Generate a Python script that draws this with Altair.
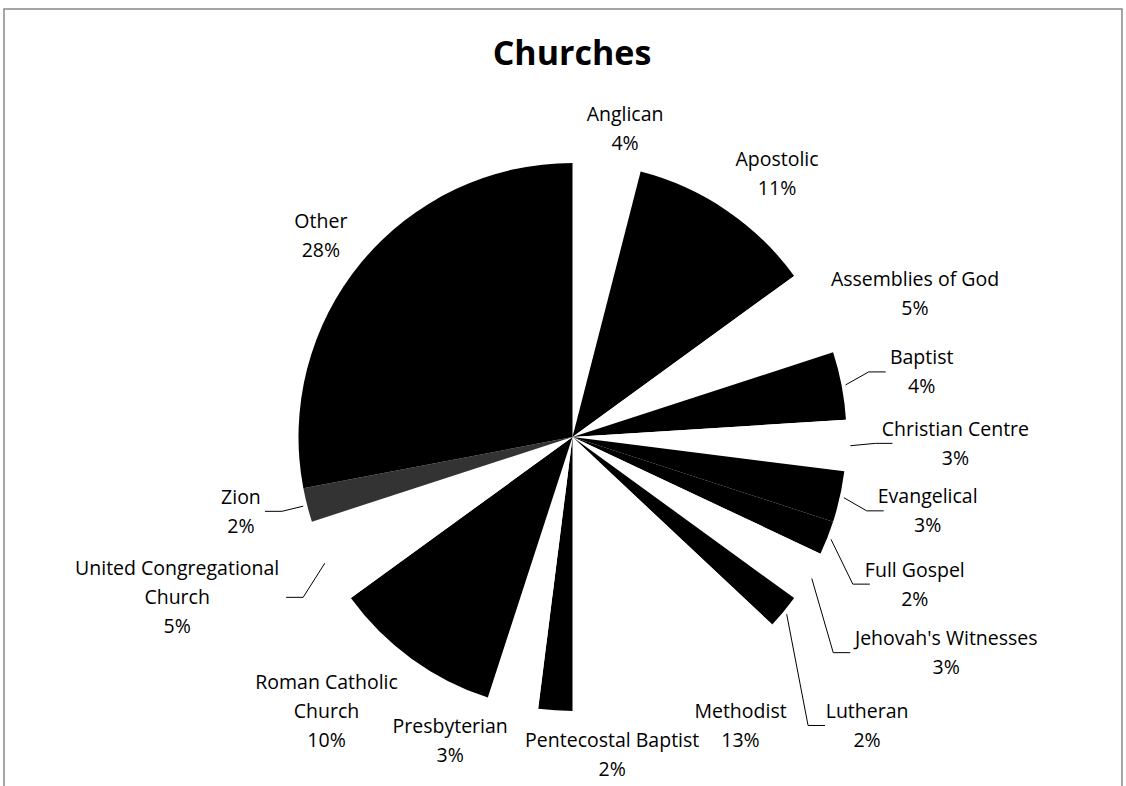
import altair as alt
import numpy as np
import pandas as pd

# ---------------- data ----------------
churches = ["Anglican", "Apostolic", "Assemblies of God", "Baptist", "Christian Centre",
            "Evangelical", "Full Gospel", "Jehovah's Witnesses", "Lutheran", "Methodist",
            "Pentecostal Baptist", "Presbyterian", "Roman Catholic Church",
            "United Congregational Church", "Zion", "Other"]
shares = [4, 11, 5, 4, 3, 3, 2, 3, 2, 13, 2, 3, 10, 5, 2, 28]

# ---------------- styles ----------------
slice_fill = ["#ffffff", "#000000", "#ffffff", "#000000", "#ffffff", "#000000", "#000000",
              "#ffffff", "#000000", "#ffffff", "#000000", "#ffffff", "#000000", "#ffffff",
              "#333333", "#000000"]
wrapped = {"Roman Catholic Church": "Roman Catholic\nChurch",
           "United Congregational Church": "United Congregational\nChurch"}
FONT = "Open Sans"
LINE_H = 29

# ---------------- layout ----------------
CX, CY, R = 572.5, 437, 274
label_dist = [312, 333, 371, 355, 383, 363, 373, 432, 413, 335, 321, 328, 369, 427, 340, 322]
label_shift = [2.5, 3.7, 4.4, 0.4, -0.7, -0.7, 1.8, -0.5, 4.9, -6.7, -10.7, 9.3, 5.8, 4.8, 1.6, -1.0]
# horizontal offset from label centre to the end of its leader line
leader_gap = {"Baptist": -36, "Christian Centre": -63, "Evangelical": -44, "Full Gospel": -45,
              "Jehovah's Witnesses": -96, "Lutheran": -42, "Zion": 24,
              "United Congregational Church": 109}

# ---------------- build tables ----------------
df = pd.DataFrame({"church": churches, "share": shares})
df["idx"] = range(len(df))
df["fill"] = slice_fill
total = df["share"].sum()
cum = df["share"].cumsum() - df["share"]
df["mid_deg"] = (cum + df["share"] / 2) / total * 360
df["pct"] = (df["share"] / total * 100).round().astype(int).astype(str) + "%"
df["label"] = [wrapped.get(c, c) + "\n" + p for c, p in zip(churches, df["pct"])]
ang = np.deg2rad(df["mid_deg"].to_numpy() + np.array(label_shift))
df["lx"] = CX + np.array(label_dist) * np.sin(ang)
df["ly"] = CY - np.array(label_dist) * np.cos(ang)
n_lines = df["label"].str.count("\n") + 1
df["ty"] = df["ly"] - (n_lines - 1) * LINE_H / 2  # first-line position of the block

rows = []
for name, gap in leader_gap.items():
    i = churches.index(name)
    a = np.deg2rad(df.loc[i, "mid_deg"])
    x0 = CX + (R + 4) * np.sin(a)
    y0 = CY - (R + 4) * np.cos(a)
    x2 = df.loc[i, "lx"] + gap
    y2 = df.loc[i, "ly"] - 1
    x1 = x2 + 17 * np.sign(gap)
    for k, (x, y) in enumerate([(x0, y0), (x1, y2), (x2, y2)]):
        rows.append({"church": name, "k": k, "x": x, "y": y})
lead_df = pd.DataFrame(rows)

# ---------------- chart ----------------
frame = alt.Chart(pd.DataFrame({"a": [0]})).mark_rect(
    fillOpacity=0, stroke="#888888", strokeWidth=1.5
).encode(x=alt.value(4), x2=alt.value(1122), y=alt.value(9), y2=alt.value(900))

pie = alt.Chart(df).mark_arc(outerRadius=R).encode(
    theta=alt.Theta("share:Q", stack=True),
    order=alt.Order("idx:Q"),
    color=alt.Color("fill:N", scale=None),
    x=alt.value(CX),
    y=alt.value(CY),
)

leaders = alt.Chart(lead_df).mark_line(color="black", strokeWidth=1).encode(
    x=alt.X("x:Q", scale=None, axis=None),
    y=alt.Y("y:Q", scale=None, axis=None),
    detail="church:N",
    order="k:Q",
)

labels = alt.Chart(df).mark_text(
    font=FONT, fontSize=19.5, lineBreak="\n", lineHeight=LINE_H,
    align="center", baseline="middle", color="black"
).encode(
    x=alt.X("lx:Q", scale=None, axis=None),
    y=alt.Y("ty:Q", scale=None, axis=None),
    text="label:N",
)

title = alt.Chart(pd.DataFrame({"t": ["Churches"]})).mark_text(
    font=FONT, fontSize=34, fontWeight="bold", color="black",
    align="center", baseline="middle"
).encode(x=alt.value(572), y=alt.value(55), text="t:N")

chart = alt.layer(frame, pie, leaders, labels, title).properties(
    width=1126, height=786, padding=0,
    autosize=alt.AutoSizeParams(type="none"),
    background="white",
).configure_view(strokeWidth=0)

chart.save("out.html", embed_options={"renderer": "svg", "actions": False})
